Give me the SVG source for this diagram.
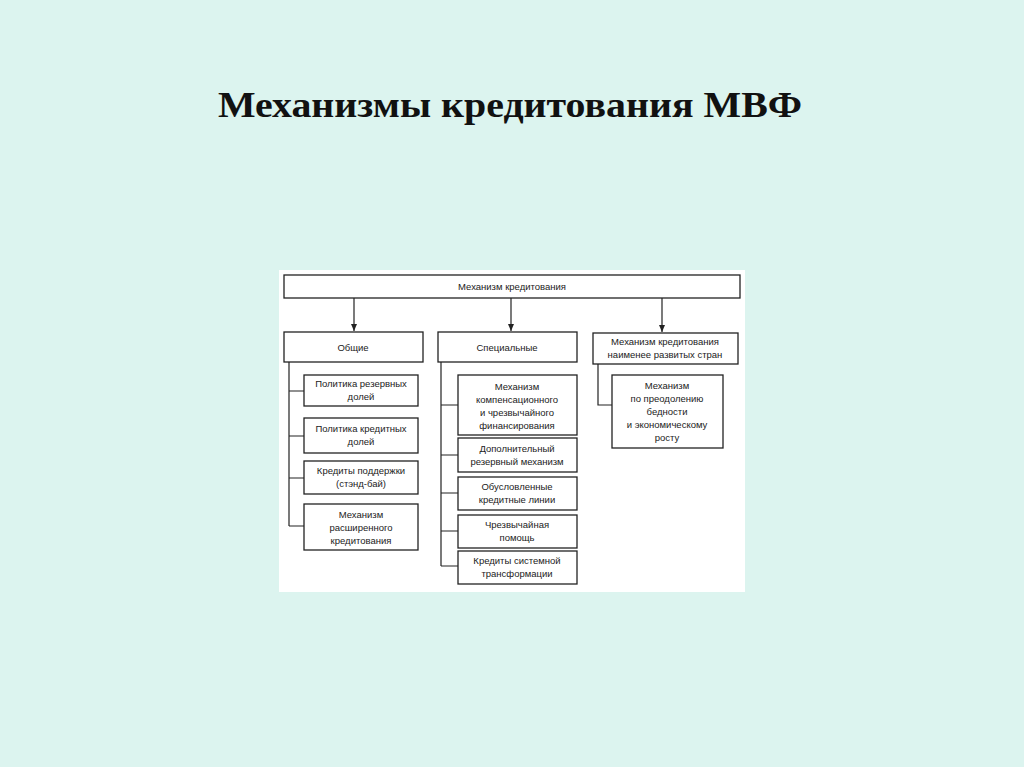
<svg xmlns="http://www.w3.org/2000/svg" width="1024" height="767" viewBox="0 0 1024 767">
<defs>
<style>
.b{fill:#fff;stroke:#222;stroke-width:1.3}
.t{font-family:"Liberation Sans",Arial,sans-serif;font-size:9.5px;fill:#222;text-anchor:middle}
.c{stroke:#222;stroke-width:1.2;fill:none}
</style>
<marker id="a" markerWidth="8" markerHeight="8" refX="7" refY="4" orient="auto" markerUnits="userSpaceOnUse"><path d="M0,1 L7,4 L0,7 Z" fill="#222"/></marker>
</defs>
<rect width="1024" height="767" fill="#dcf4ef"/>
<text x="510" y="117" font-family="'Liberation Serif','Times New Roman',serif" font-size="36" font-weight="bold" text-anchor="middle" textLength="584" lengthAdjust="spacingAndGlyphs" fill="#111">Механизмы кредитования МВФ</text>
<rect x="279" y="270" width="466" height="322" fill="#fff"/>
<g id="connectors">
<path class="c" d="M354,298V331" marker-end="url(#a)"/>
<path class="c" d="M511,298V331" marker-end="url(#a)"/>
<path class="c" d="M662,298V332" marker-end="url(#a)"/>
<path class="c" d="M289,362V526M289,391H304M289,436H304M289,478H304M289,526H304"/>
<path class="c" d="M441,362V566M441,405H458M441,455H458M441,493H458M441,531H458M441,566H458"/>
<path class="c" d="M598,364V405H612"/>
</g>
<g id="root"><rect class="b" x="284" y="275" width="456" height="23"/><text class="t" x="512" y="290">Механизм кредитования</text></g>
<g id="general"><rect class="b" x="284" y="332" width="139" height="30"/><text class="t" x="353" y="351">Общие</text></g>
<g id="special"><rect class="b" x="438" y="332" width="139" height="30"/><text class="t" x="507" y="351">Специальные</text></g>
<g id="ldc"><rect class="b" x="593" y="333" width="145" height="31"/><text class="t" x="665" y="345">Механизм кредитования</text><text class="t" x="665" y="358">наименее развитых стран</text></g>
<g id="g1"><rect class="b" x="304" y="375" width="114" height="31"/><text class="t" x="361" y="387">Политика резервных</text><text class="t" x="361" y="400">долей</text></g>
<g id="g2"><rect class="b" x="304" y="418" width="114" height="35"/><text class="t" x="361" y="432">Политика кредитных</text><text class="t" x="361" y="445">долей</text></g>
<g id="g3"><rect class="b" x="304" y="461" width="114" height="33"/><text class="t" x="361" y="474">Кредиты поддержки</text><text class="t" x="361" y="487">(стэнд-бай)</text></g>
<g id="g4"><rect class="b" x="304" y="504" width="114" height="46"/><text class="t" x="361" y="518">Механизм</text><text class="t" x="361" y="531">расширенного</text><text class="t" x="361" y="544">кредитования</text></g>
<g id="s1"><rect class="b" x="458" y="375" width="119" height="60"/><text class="t" x="517" y="390">Механизм</text><text class="t" x="517" y="403">компенсационного</text><text class="t" x="517" y="416">и чрезвычайного</text><text class="t" x="517" y="429">финансирования</text></g>
<g id="s2"><rect class="b" x="458" y="438" width="119" height="34"/><text class="t" x="517" y="452">Дополнительный</text><text class="t" x="517" y="465">резервный механизм</text></g>
<g id="s3"><rect class="b" x="458" y="477" width="119" height="33"/><text class="t" x="517" y="490">Обусловленные</text><text class="t" x="517" y="503">кредитные линии</text></g>
<g id="s4"><rect class="b" x="458" y="515" width="119" height="33"/><text class="t" x="517" y="528">Чрезвычайная</text><text class="t" x="517" y="541">помощь</text></g>
<g id="s5"><rect class="b" x="458" y="551" width="119" height="33"/><text class="t" x="517" y="564">Кредиты системной</text><text class="t" x="517" y="577">трансформации</text></g>
<g id="l1"><rect class="b" x="612" y="375" width="111" height="73"/><text class="t" x="667" y="389">Механизм</text><text class="t" x="667" y="402">по преодолению</text><text class="t" x="667" y="415">бедности</text><text class="t" x="667" y="428">и экономическому</text><text class="t" x="667" y="441">росту</text></g>
</svg>
